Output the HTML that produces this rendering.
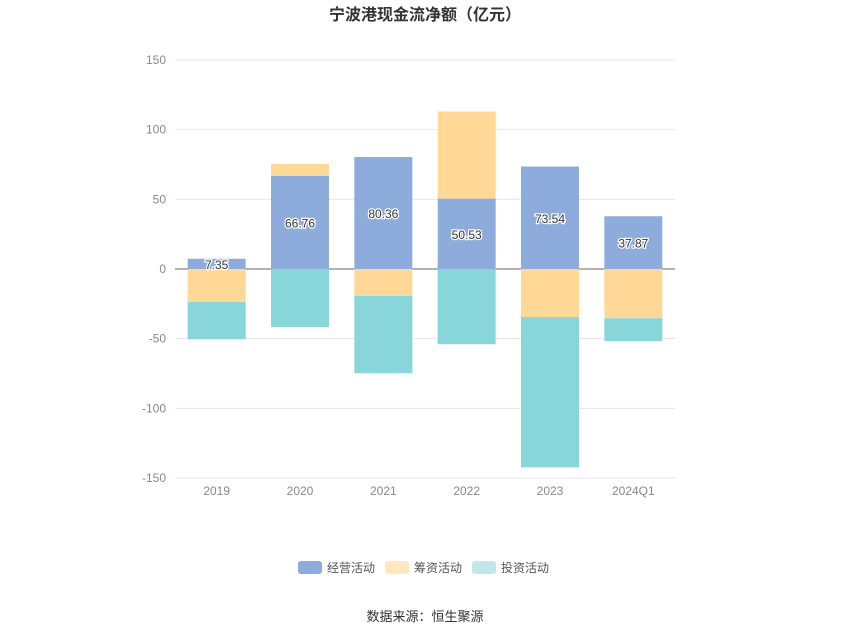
<!DOCTYPE html>
<html><head><meta charset="utf-8"><style>
body{margin:0;background:#fff;font-family:"Liberation Sans","Noto Sans CJK SC",sans-serif}
</style></head><body>
<svg id="c" width="850" height="637" xmlns="http://www.w3.org/2000/svg">
<text x="425" y="20" text-anchor="middle" font-size="16" font-weight="bold" fill="#333" font-family="Liberation Sans,Noto Sans CJK SC,sans-serif">宁波港现金流净额（亿元）</text>
<g id="grid"></g><g id="bars"></g><g id="labels"></g>
<g font-size="12" fill="#555" font-family="Liberation Sans,Noto Sans CJK SC,sans-serif">
<g><rect x="298" y="561" width="24" height="13" rx="3" fill="#8eacdb"/><text x="327" y="572">经营活动</text></g>
<g><rect x="385" y="561" width="24" height="13" rx="3" fill="#ffe7be"/><text x="414" y="572">筹资活动</text></g>
<g><rect x="472" y="561" width="24" height="13" rx="3" fill="#c0e8e8"/><text x="501" y="572">投资活动</text></g>
</g>
<text x="425" y="621" text-anchor="middle" font-size="13" fill="#333" font-family="Liberation Sans,Noto Sans CJK SC,sans-serif">数据来源：恒生聚源</text>
</svg>
<script>
const categories=["2019","2020","2021","2022","2023","2024Q1"];
const operating=[7.35,66.76,80.36,50.53,73.54,37.87];
const financing=[-23.7,8.6,-19.4,62.5,-34.5,-35.3];
const investing=[-26.7,-41.7,-55.4,-54,-107.9,-16.5];
const ticks=[150,100,50,0,-50,-100,-150];
const NS="http://www.w3.org/2000/svg";
const x0=175,x1=675,bw=58;
const y=v=>269-v*(209/150);
const xc=i=>x0+(x1-x0)/categories.length*(i+0.5);
function mk(t,a,p){const e=document.createElementNS(NS,t);for(const k in a)e.setAttribute(k,a[k]);p.appendChild(e);return e;}
const g=document.getElementById('grid'),b=document.getElementById('bars'),l=document.getElementById('labels');
ticks.forEach(t=>{
 const ln=mk('line',{x1:x0,x2:x1,y1:y(t),y2:y(t),stroke:t===0?'#666':'#e3e6ee','stroke-width':1},g);
 
 
 const tx=mk('text',{x:166,y:y(t)+4,'text-anchor':'end','font-size':12,fill:'#888'},g);
 tx.textContent=t;
 
 
});
categories.forEach((c,i)=>{
 const tx=mk('text',{x:xc(i),y:495,'text-anchor':'middle','font-size':12,fill:'#888'},g);
 tx.textContent=c;
 
 
 let pos=0,neg=0;
 [[operating,'#8eacdb','operating'],[financing,'#ffd898','financing'],[investing,'#88d6d9','investing']].forEach(([arr,col,nm])=>{
  const v=arr[i];let a,bb;
  if(v>=0){a=pos;bb=pos+v;pos=bb;}else{a=neg;bb=neg+v;neg=bb;}
  const top=Math.min(y(a),y(bb)),h=Math.abs(y(a)-y(bb));
  const r=mk('rect',{x:xc(i)-bw/2,y:top,width:bw,height:h,fill:col},b);
  
  
 });
 const lb=mk('text',{x:xc(i),y:y(operating[i]/2)+5,'text-anchor':'middle','font-size':12,fill:'#333',stroke:'#fff','stroke-width':2.5,'paint-order':'stroke'},l);
 lb.textContent=operating[i].toFixed(2);
 
 
});
</script>
</body></html>
